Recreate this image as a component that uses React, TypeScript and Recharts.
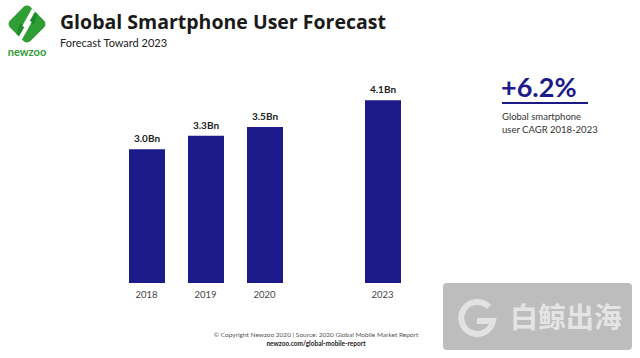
import React from 'react';
import { BarChart, Bar, XAxis, YAxis, LabelList } from 'recharts';

const years = ['2018', '2019', '2020', ' ', '2023'];
const users = [3.0, 3.3, 3.5, null, 4.1];
const cagrValue = '+6.2%';
const cagrLines = ['Global smartphone', 'user CAGR 2018-2023'];

const data = years.map((y, i) => ({ year: y, users: users[i] }));

const FONT = 'Lato, "Open Sans", "Noto Sans", sans-serif';
const NAVY = '#1c1a8a';
const GREEN = '#2f9e35';

const Logo = () => (
  <svg width={56} height={60} style={{ position: 'absolute', left: 0, top: 0 }}>
    <defs>
      <clipPath id="dia">
        <rect x={-14.5} y={-14.5} width={29} height={29} rx={5} transform="translate(27,24) rotate(45)" />
      </clipPath>
    </defs>
    <rect x={-14.5} y={-14.5} width={29} height={29} rx={5} fill={GREEN} transform="translate(27,24) rotate(45)" />
    <g clipPath="url(#dia)">
      <polygon points="27,24 40,8 34,24" fill="#1f8a2a" />
      <polygon points="27,24 14,40 20,24" fill="#1f8a2a" />
      <line x1={34} y1={9} x2={24} y2={27} stroke="#fff" strokeWidth={4} />
      <line x1={30} y1={21} x2={20} y2={39} stroke="#fff" strokeWidth={4} />
    </g>
    <text x={27} y={56} textAnchor="middle" fontFamily={FONT} fontWeight={700} fontSize={11} fill={GREEN}>newzoo</text>
  </svg>
);

export default function App() {
  return (
    <div style={{ position: 'absolute', left: 0, top: 0, width: 640, height: 358, background: '#fff', fontFamily: FONT, overflow: 'hidden' }}>
      <Logo />
      <div style={{ position: 'absolute', left: 60, top: 10, fontSize: 19.5, fontWeight: 700, color: '#1a1a1a', whiteSpace: 'nowrap', lineHeight: '24px', fontFamily: '"Open Sans", sans-serif' }}>
        Global Smartphone User Forecast
      </div>
      <div style={{ position: 'absolute', left: 60, top: 36, fontSize: 11, color: '#222', whiteSpace: 'nowrap', lineHeight: '14px' }}>
        Forecast Toward 2023
      </div>
      <BarChart width={640} height={358} data={data} margin={{ top: 60, right: 228, bottom: 45, left: 117 }} barCategoryGap={0}>
        <XAxis dataKey="year" axisLine={false} tickLine={false} height={30} tick={{ fill: '#444', fontSize: 9.5, fontFamily: FONT }} interval={0} />
        <YAxis hide domain={[0, 5]} />
        <Bar dataKey="users" fill={NAVY} barSize={36} isAnimationActive={false}>
          <LabelList dataKey="users" position="top" offset={7}
            formatter={(v: any) => (v == null ? '' : Number(v).toFixed(1) + 'Bn')}
            style={{ fill: '#222', fontSize: 10, fontWeight: 700, fontFamily: FONT }} />
        </Bar>
      </BarChart>
      <div style={{ position: 'absolute', left: 501, top: 72, fontSize: 27, fontWeight: 700, color: NAVY, lineHeight: '30px', whiteSpace: 'nowrap' }}>
        {cagrValue}
      </div>
      <div style={{ position: 'absolute', left: 502, top: 102, width: 86, height: 2, background: NAVY }} />
      <div style={{ position: 'absolute', left: 502, top: 110, fontSize: 9.5, color: '#333', lineHeight: '13px', whiteSpace: 'nowrap' }}>
        {cagrLines.map((l) => <div key={l}>{l}</div>)}
      </div>
      <div style={{ position: 'absolute', left: 0, width: 632, top: 331, textAlign: 'center', fontSize: 6.5, color: '#555', whiteSpace: 'nowrap' }}>
        © Copyright Newzoo 2020 | Source: 2020 Global Mobile Market Report
      </div>
      <div style={{ position: 'absolute', left: 0, width: 632, top: 340, textAlign: 'center', fontSize: 6.5, fontWeight: 700, color: '#222', whiteSpace: 'nowrap' }}>
        newzoo.com/global-mobile-report
      </div>
      <div style={{ position: 'absolute', left: 443, top: 283, width: 189, height: 67, background: '#bdbdbd', borderRadius: 4 }}>
        <svg width={189} height={67} style={{ position: 'absolute', left: 0, top: 0 }}>
          <path d="M 46 24 A 16 16 0 1 0 50 38 L 34 38" fill="none" stroke="#e2e2e2" strokeWidth={6} />
          <text x={67} y={45} fontFamily='"Noto Sans CJK SC", sans-serif' fontWeight={700} fontSize={28} fill="#e4e4e4">白鲸出海</text>
        </svg>
      </div>
    </div>
  );
}
